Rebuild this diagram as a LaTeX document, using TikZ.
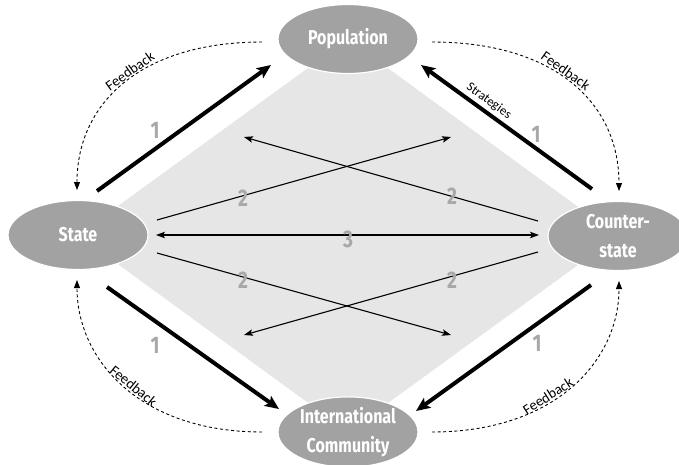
\documentclass[tikz,border=0pt]{standalone}
\usepackage{fontspec}
\setmainfont{Carlito}
\newfontfamily\nodefont{Fira Sans}[FakeStretch=0.8]
\usetikzlibrary{arrows.meta,shapes.geometric}
\definecolor{ellgray}{HTML}{A2A2A2}
\definecolor{diagray}{HTML}{E6E6E7}
\definecolor{numgray}{HTML}{A8A8A8}
\tikzset{
  actor/.style={ellipse, fill=ellgray, draw=white, line width=1.2pt, inner sep=0pt,
    minimum width=140pt, minimum height=69pt, text=white, align=center,
    font=\nodefont\bfseries\fontsize{20}{29}\selectfont},
  strong/.style={line width=4pt, -{Stealth[length=14pt,width=12pt,inset=3pt]}},
  cross/.style={line width=1.1pt, -{Stealth[length=9pt,width=6.5pt,inset=2pt]}},
  both/.style={line width=1.1pt, {Stealth[length=9pt,width=6.5pt,inset=2pt]}-{Stealth[length=9pt,width=6.5pt,inset=2pt]}},
  fback/.style={line width=0.9pt, dash pattern=on 3pt off 2.6pt, -{Triangle[length=8pt,width=6pt]}},
  fbtext/.style={font=\fontsize{14.5}{16}\selectfont, sloped, above, inner sep=1pt},
  num/.style={text=numgray, font=\nodefont\bfseries\fontsize{24}{26}\selectfont, inner sep=0pt}
}
\begin{document}
\begin{tikzpicture}[x=1pt,y=-1pt]
\useasboundingbox (0,0) rectangle (679,464);
\clip (0,0) rectangle (679,464);
% diamond background
\fill[diagray] (348,39) -- (618,236) -- (348,432) -- (78,235) -- cycle;
% actors
\node[actor] (pop) at (348,39) {Population};
\node[actor] (state) at (78,235) {State};
\node[actor] (cs) at (618,236) {Counter-\\state};
\node[actor] (ic) at (348,432) {International\\Community};
% anchor points for connectors
\coordinate (s1) at (97,191);   \coordinate (p1) at (271,65);
\coordinate (c1) at (592,189);  \coordinate (p2) at (421,65);
\coordinate (s2) at (107,287);  \coordinate (i1) at (279,409);
\coordinate (c2) at (591,285);  \coordinate (i2) at (416,411);
\coordinate (sa) at (157,220);  \coordinate (ta) at (451,137);
\coordinate (ca) at (538,221);  \coordinate (tb) at (244,137);
\coordinate (sb) at (157,253);  \coordinate (tc) at (451,335);
\coordinate (cb) at (538,252);  \coordinate (td) at (244,335);
\coordinate (sh) at (156,235);  \coordinate (ch) at (539,235);
\coordinate (pl) at (262,42);   \coordinate (pr) at (432,42);
\coordinate (st) at (77,190);   \coordinate (ct) at (619,191);
\coordinate (il) at (262,432);  \coordinate (ir) at (432,432);
\coordinate (sbt) at (77,280);  \coordinate (cbt) at (619,281);
% strong arrows
\draw[strong] (s1) -- (p1);
\draw[strong] (c1) -- node[pos=0.64, sloped, above, inner sep=3pt, font=\fontsize{13}{14}\selectfont] {Strategies} (p2);
\draw[strong] (s2) -- (i1);
\draw[strong] (c2) -- (i2);
% cross arrows
\draw[cross] (sa) -- (ta);
\draw[cross] (ca) -- (tb);
\draw[cross] (sb) -- (tc);
\draw[cross] (cb) -- (td);
\draw[both] (sh) -- (ch);
% feedback loops
\draw[fback] (pl) .. controls (140,42) and (77,104) .. node[fbtext, pos=0.45] {Feedback} (st);
\draw[fback] (pr) .. controls (556,42) and (619,104) .. node[fbtext, pos=0.45] {Feedback} (ct);
\draw[fback] (il) .. controls (140,432) and (77,360) .. node[fbtext, pos=0.47] {Feedback} (sbt);
\draw[fback] (ir) .. controls (556,432) and (619,360) .. node[fbtext, pos=0.4] {Feedback} (cbt);
% numbers
\node[num] (n1a) at (155,130) {1};
\node[num] (n1b) at (536,134) {1};
\node[num] (n1c) at (155,345) {1};
\node[num] (n1d) at (537,343) {1};
\node[num] (n2a) at (243,198) {2};
\node[num] (n2b) at (452,196) {2};
\node[num] (n2c) at (243,280) {2};
\node[num] (n2d) at (452,280) {2};
\node[num] (n3) at (348,239) {3};
\end{tikzpicture}
\end{document}
